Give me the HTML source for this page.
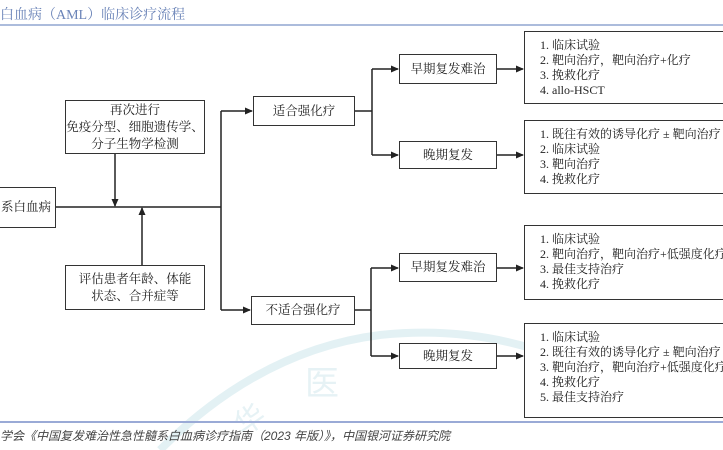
<!DOCTYPE html>
<html><head><meta charset="utf-8"><style>
body{margin:0;width:723px;height:450px;overflow:hidden;background:#fff;position:relative;font-family:"Liberation Serif","Noto Serif CJK SC",serif;color:#222}
.b{position:absolute;border:1.5px solid #333;box-sizing:border-box;background:#fff;display:flex;align-items:center;justify-content:center;text-align:center;font-size:12.5px;line-height:17px;white-space:nowrap}
.l{position:absolute;border:1.5px solid #333;border-right:none;box-sizing:border-box;background:#fff;font-size:12px;line-height:15px;padding:6px 0 0 15px;white-space:nowrap;overflow:hidden}
.t{position:absolute;font-family:"Liberation Sans","Noto Sans CJK SC",sans-serif}
</style></head><body>
<svg width="723" height="450" style="position:absolute;left:0;top:0">
<path d="M160 450 Q260 350 380 335 Q520 320 640 400" stroke="#e3f1f4" stroke-width="8" fill="none"/>
<text x="305" y="395" font-size="34" fill="#e6f2f5" font-family="Noto Sans CJK SC">医</text>
<text x="235" y="430" font-size="30" fill="#e6f2f5" font-family="Noto Sans CJK SC" transform="rotate(-35 250 420)">华</text>
<line x1="0" y1="25" x2="723" y2="25" stroke="#7b93c8" stroke-width="1.2"/>
<line x1="0" y1="422" x2="723" y2="422" stroke="#9aaad6" stroke-width="2"/>
<defs><marker id="a" markerWidth="8" markerHeight="8" refX="7" refY="4" orient="auto" markerUnits="userSpaceOnUse"><path d="M0,0.5 L8,4 L0,7.5z" fill="#222"/></marker></defs>
<g stroke="#222" stroke-width="1.5" fill="none">
<line x1="56" y1="207" x2="221" y2="207"/>
<line x1="115" y1="154" x2="115" y2="206" marker-end="url(#a)"/>
<line x1="142" y1="265" x2="142" y2="208" marker-end="url(#a)"/>
<line x1="221" y1="111" x2="221" y2="310"/>
<line x1="221" y1="111" x2="252" y2="111" marker-end="url(#a)"/>
<line x1="221" y1="310" x2="250" y2="310" marker-end="url(#a)"/>
<line x1="355" y1="111" x2="372" y2="111"/>
<line x1="372" y1="69" x2="372" y2="155"/>
<line x1="372" y1="69" x2="398" y2="69" marker-end="url(#a)"/>
<line x1="372" y1="155" x2="398" y2="155" marker-end="url(#a)"/>
<line x1="497" y1="69" x2="523" y2="69" marker-end="url(#a)"/>
<line x1="497" y1="155" x2="523" y2="155" marker-end="url(#a)"/>
<line x1="355" y1="310" x2="371" y2="310"/>
<line x1="371" y1="268" x2="371" y2="356"/>
<line x1="371" y1="268" x2="398" y2="268" marker-end="url(#a)"/>
<line x1="371" y1="356" x2="398" y2="356" marker-end="url(#a)"/>
<line x1="497" y1="268" x2="523" y2="268" marker-end="url(#a)"/>
<line x1="497" y1="356" x2="523" y2="356" marker-end="url(#a)"/>
</g></svg>
<div class="t" style="left:0;top:4px;font-size:14px;color:#6b84b8;font-family:'Liberation Serif','Noto Serif CJK SC',serif">白血病（AML）临床诊疗流程</div>
<div class="b" style="left:0;top:187px;width:56px;height:41px;border-left:none;justify-content:flex-end;padding-right:4px;overflow:hidden">系白血病</div>
<div class="b" style="left:65px;top:100px;width:140px;height:54px">再次进行<br>免疫分型、细胞遗传学、<br>分子生物学检测</div>
<div class="b" style="left:65px;top:265px;width:140px;height:45px">评估患者年龄、体能<br>状态、合并症等</div>
<div class="b" style="left:253px;top:96px;width:102px;height:30px">适合强化疗</div>
<div class="b" style="left:251px;top:296px;width:104px;height:29px">不适合强化疗</div>
<div class="b" style="left:399px;top:54px;width:98px;height:30px">早期复发难治</div>
<div class="b" style="left:399px;top:141px;width:98px;height:28px">晚期复发</div>
<div class="b" style="left:399px;top:253px;width:98px;height:29px">早期复发难治</div>
<div class="b" style="left:399px;top:343px;width:98px;height:26px">晚期复发</div>
<div class="l" style="left:524px;top:31px;width:199px;height:73px">1. 临床试验<br>2. 靶向治疗，靶向治疗+化疗<br>3. 挽救化疗<br>4. allo-HSCT</div>
<div class="l" style="left:524px;top:120px;width:199px;height:74px">1. 既往有效的诱导化疗 ± 靶向治疗<br>2. 临床试验<br>3. 靶向治疗<br>4. 挽救化疗</div>
<div class="l" style="left:524px;top:225px;width:199px;height:75px">1. 临床试验<br>2. 靶向治疗，靶向治疗+低强度化疗<br>3. 最佳支持治疗<br>4. 挽救化疗</div>
<div class="l" style="left:524px;top:323px;width:199px;height:95px">1. 临床试验<br>2. 既往有效的诱导化疗 ± 靶向治疗<br>3. 靶向治疗，靶向治疗+低强度化疗<br>4. 挽救化疗<br>5. 最佳支持治疗</div>
<div class="t" style="left:0;top:427px;font-size:12px;color:#444;font-style:italic">学会《中国复发难治性急性髓系白血病诊疗指南（2023 年版）》，中国银河证券研究院</div>
</body></html>
